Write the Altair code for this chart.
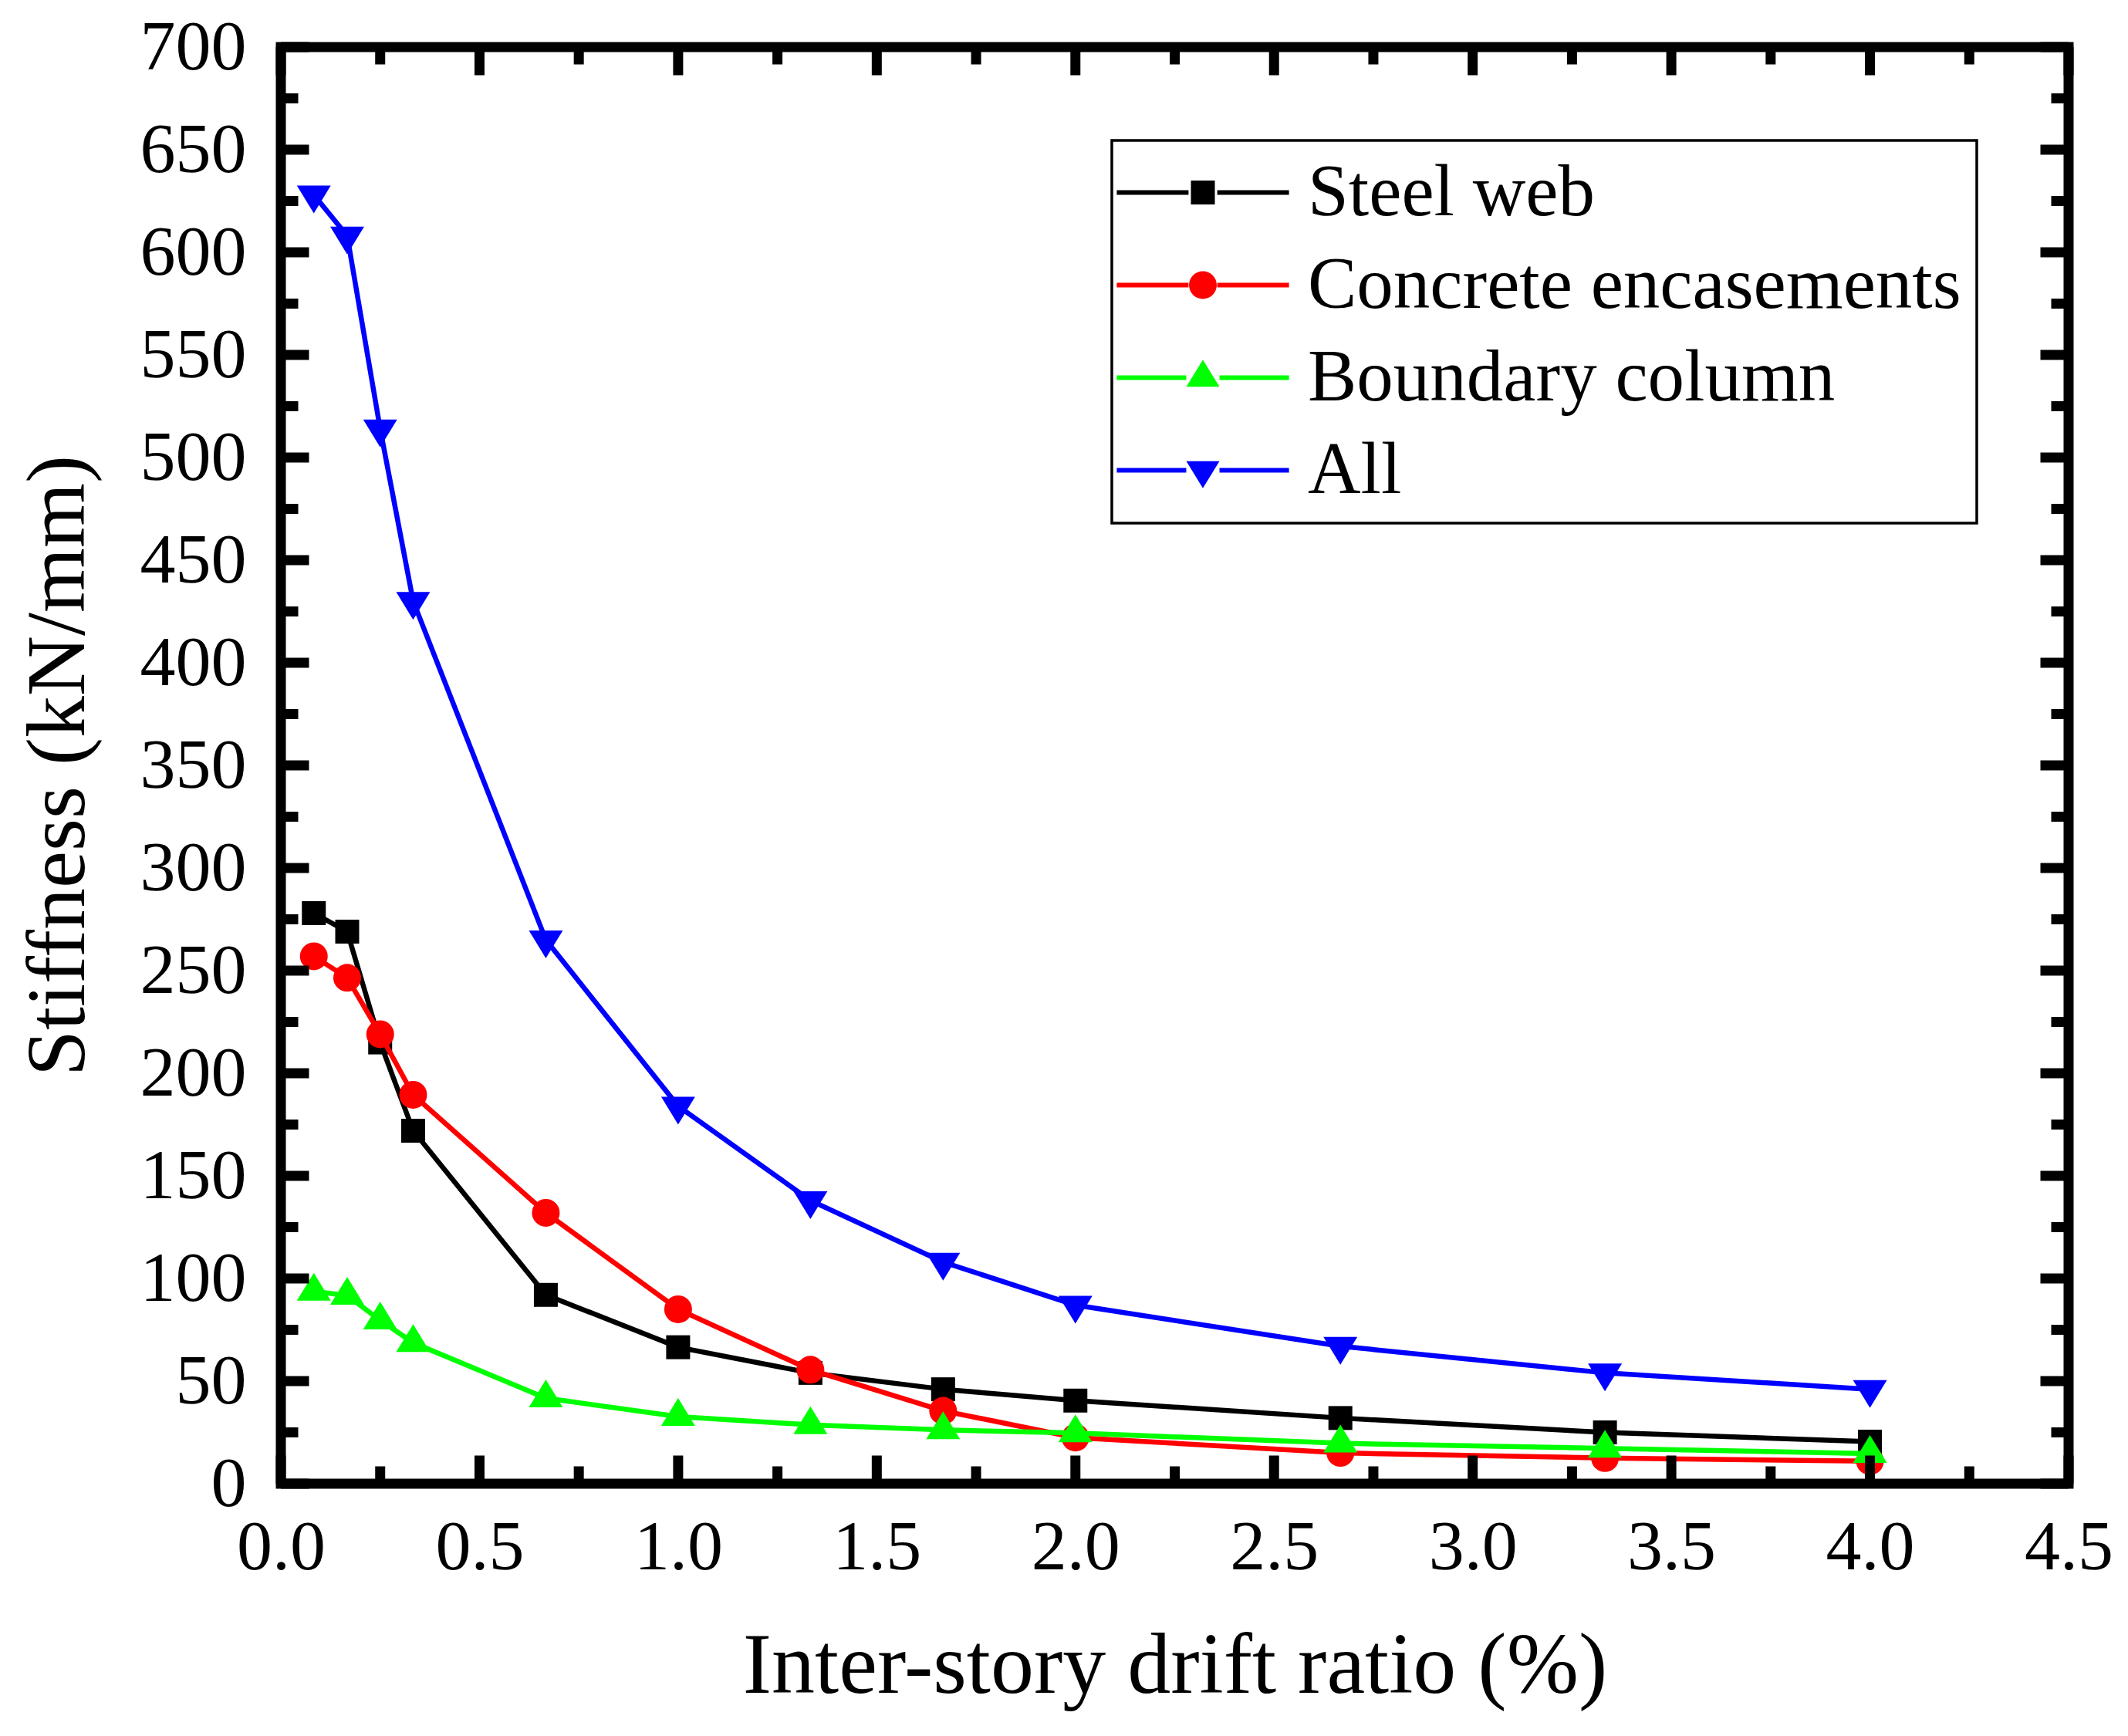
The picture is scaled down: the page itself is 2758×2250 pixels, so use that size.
import altair as alt
import pandas as pd

# ---------------- data ----------------
drift = [0.083, 0.167, 0.25, 0.333, 0.667, 1.0, 1.333, 1.667, 2.0, 2.667, 3.333, 4.0]
steel_web = [278, 269, 215, 172, 92, 66.5, 54, 46, 40.5, 32, 25, 20.5]
concrete = [257, 246.5, 219, 189.5, 132, 85, 55.5, 35.5, 22.5, 15, 12.5, 11]
boundary = [93.7, 91.7, 79.7, 68.7, 41.7, 32.7, 28.7, 26.2, 24.7, 19.7, 17.2, 14.7]
all_parts = [628, 608, 514, 430, 265, 184, 138, 108, 87, 67, 54, 46]

series_names = ["Steel web", "Concrete encasements", "Boundary column", "All"]
series_values = [steel_web, concrete, boundary, all_parts]
series_colors = ["#000000", "#FF0000", "#00FF00", "#0000FF"]

# axis ticks
x_major = [0.0, 0.5, 1.0, 1.5, 2.0, 2.5, 3.0, 3.5, 4.0, 4.5]
x_minor = [0.25, 0.75, 1.25, 1.75, 2.25, 2.75, 3.25, 3.75, 4.25]
y_major = [0, 50, 100, 150, 200, 250, 300, 350, 400, 450, 500, 550, 600, 650, 700]
y_minor = [25, 75, 125, 175, 225, 275, 325, 375, 425, 475, 525, 575, 625, 675]

# ---------------- styling ----------------
FONT = "Liberation Serif"
W, H = 2317, 1862
FRAME = 13
MAJ, MIN = 36.5, 22.5

# marker shapes for data points (Origin-like; triangles anchored on centroid)
data_shapes = [
    "square",
    "circle",
    "M0,-1.333L1.222,0.667L-1.222,0.667Z",
    "M0,1.333L1.222,-0.667L-1.222,-0.667Z",
]
data_sizes = [961, 1296, 1296, 1296]

# legend symbols: line segment + marker, unit = 15.5 px
seg = "M-7.2,-0.2H-{g}V0.2H-7.2Z M{g},-0.2H7.2V0.2H{g}Z"
legend_paths = [
    seg.format(g=1.2) + " M-1,-1H1V1H-1Z",
    seg.format(g=1.2) + " M-1.16,0A1.16,1.16,0,1,1,1.16,0A1.16,1.16,0,1,1,-1.16,0Z",
    seg.format(g=1.39) + " M0,-1.505L1.387,0.753L-1.387,0.753Z",
    seg.format(g=1.39) + " M0,1.505L1.387,-0.753L-1.387,-0.753Z",
]

rows = []
for name, vals in zip(series_names, series_values):
    for xv, yv in zip(drift, vals):
        rows.append({"series": name, "drift": xv, "stiffness": yv})
df = pd.DataFrame(rows)

x_scale = alt.Scale(domain=[0, 4.5], nice=False, zero=False)
y_scale = alt.Scale(domain=[0, 700], nice=False, zero=False)

x_axis = alt.Axis(
    values=x_major, format=".1f", title="Inter-story drift ratio (%)",
    ticks=False, tickSize=0, domain=False, grid=False,
    labelFont=FONT, labelFontSize=92, labelColor="black", labelPadding=37,
    labelFlush=False, labelOverlap=False,
    titleFont=FONT, titleFontSize=112, titleFontWeight="normal", titleColor="black",
    titlePadding=54,
)
y_axis = alt.Axis(
    values=y_major, format="d", title="Stiffness (kN/mm)",
    ticks=False, tickSize=0, domain=False, grid=False,
    labelFont=FONT, labelFontSize=92, labelColor="black", labelPadding=45,
    labelFlush=False, labelOverlap=False,
    titleFont=FONT, titleFontSize=108, titleFontWeight="normal", titleColor="black",
    titlePadding=50,
)

def X(field):
    return alt.X(field, scale=x_scale, axis=x_axis)

def Y(field):
    return alt.Y(field, scale=y_scale, axis=y_axis)

layers = []

# data lines + markers, drawn series by series
for i, name in enumerate(series_names):
    sub = alt.Chart(df).transform_filter(alt.datum.series == name)
    line = sub.mark_line(color=series_colors[i], strokeWidth=6.5).encode(
        x=X("drift:Q"), y=Y("stiffness:Q"))
    pts = sub.mark_point(
        shape=data_shapes[i], size=data_sizes[i], filled=True,
        color=series_colors[i], opacity=1, strokeWidth=0,
    ).encode(x=X("drift:Q"), y=Y("stiffness:Q"))
    layers += [line, pts]

# inward ticks on all four sides
xt_major = pd.DataFrame({"v": x_major})
xt_minor = pd.DataFrame({"v": x_minor})
yt_major = pd.DataFrame({"v": y_major})
yt_minor = pd.DataFrame({"v": y_minor})

def xticks(d, length):
    bottom = alt.Chart(d).mark_rule(color="black", strokeWidth=FRAME).encode(
        x=X("v:Q"), y=alt.value(H), y2=alt.value(H - length))
    top = alt.Chart(d).mark_rule(color="black", strokeWidth=FRAME).encode(
        x=X("v:Q"), y=alt.value(0), y2=alt.value(length))
    return [bottom, top]

def yticks(d, length):
    left = alt.Chart(d).mark_rule(color="black", strokeWidth=FRAME).encode(
        y=Y("v:Q"), x=alt.value(0), x2=alt.value(length))
    right = alt.Chart(d).mark_rule(color="black", strokeWidth=FRAME).encode(
        y=Y("v:Q"), x=alt.value(W), x2=alt.value(W - length))
    return [left, right]

layers += xticks(xt_major, MAJ) + xticks(xt_minor, MIN)
layers += yticks(yt_major, MAJ) + yticks(yt_minor, MIN)

# legend (driven by an empty layer with explicit scale domains)
legend_spec = alt.Legend(
    title=None, orient="none", legendX=1077, legendY=121, direction="vertical",
    labelFont=FONT, labelFontSize=95, labelColor="black", labelLimit=3000,
    symbolSize=961, symbolStrokeWidth=0, symbolOffset=50.5, labelOffset=88.5,
    padding=20, rowPadding=24, strokeColor="black", symbolOpacity=1,
)
legend_layer = alt.Chart(df).transform_filter("false").mark_point(
    filled=True, size=961, opacity=1
).encode(
    color=alt.Color("series:N", scale=alt.Scale(domain=series_names, range=series_colors),
                    legend=legend_spec),
    shape=alt.Shape("series:N", scale=alt.Scale(domain=series_names, range=legend_paths),
                    legend=legend_spec),
)
layers.append(legend_layer)

chart = alt.layer(*layers).properties(
    width=W, height=H,
    padding={"left": 14, "top": 7, "right": 5, "bottom": 5},
    background="white",
).configure_view(
    stroke="black", strokeWidth=FRAME
).configure_legend(
    strokeWidth=3.5
)

chart.save("out.html", embed_options={"renderer": "svg", "actions": False})
